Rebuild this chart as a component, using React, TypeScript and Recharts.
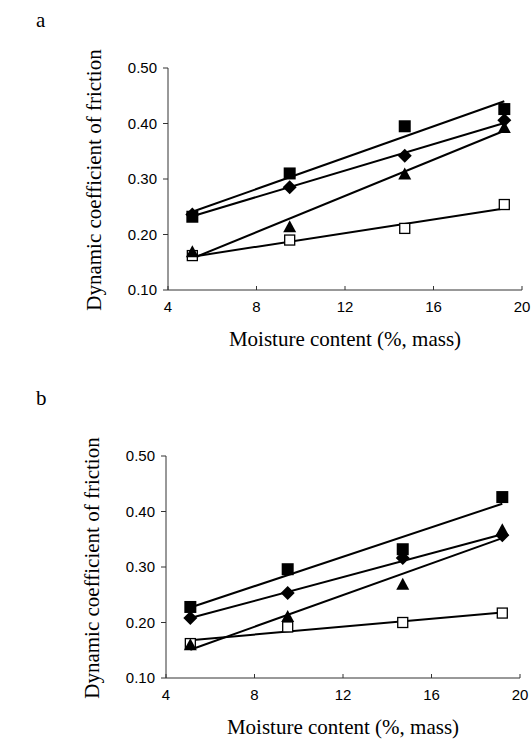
import { ComposedChart, Line, Scatter, XAxis, YAxis } from "recharts";

// moisture content (%, mass) at which the samples were measured
const moisture = [5.1, 9.5, 14.7, 19.2];
// ends of the fitted lines
const fitX = [5.1, 19.2];

const xTicks = [4, 8, 12, 16, 20];
const yTicks = [0.1, 0.2, 0.3, 0.4, 0.5];

// panel a
const aFilledSquare = [0.232, 0.31, 0.395, 0.426];
const aDiamond = [0.236, 0.285, 0.342, 0.406];
const aTriangle = [0.168, 0.213, 0.308, 0.392];
const aOpenSquare = [0.162, 0.19, 0.211, 0.254];
const aFitFilledSquare = [0.241, 0.44];
const aFitDiamond = [0.233, 0.401];
const aFitTriangle = [0.157, 0.387];
const aFitOpenSquare = [0.16, 0.247];

// panel b
const bFilledSquare = [0.228, 0.296, 0.332, 0.426];
const bDiamond = [0.208, 0.253, 0.316, 0.357];
const bTriangle = [0.159, 0.21, 0.268, 0.366];
const bOpenSquare = [0.162, 0.192, 0.2, 0.217];
const bFitFilledSquare = [0.227, 0.414];
const bFitDiamond = [0.208, 0.359];
const bFitTriangle = [0.151, 0.352];
const bFitOpenSquare = [0.168, 0.218];

const toPoints = (xs: number[], ys: number[]) => xs.map((x, i) => ({ x, y: ys[i] }));

const FilledSquare = ({ cx, cy }: any) => (
    <rect x={cx - 6} y={cy - 6} width={12} height={12} fill="#000" />
);
const OpenSquare = ({ cx, cy }: any) => (
    <rect x={cx - 5} y={cy - 5} width={10} height={10} fill="#fff" stroke="#000" strokeWidth={1.3} />
);
const Diamond = ({ cx, cy }: any) => (
    <polygon points={`${cx},${cy - 7} ${cx + 7},${cy} ${cx},${cy + 7} ${cx - 7},${cy}`} fill="#000" />
);
const Triangle = ({ cx, cy }: any) => (
    <polygon points={`${cx},${cy - 7} ${cx + 6.5},${cy + 5} ${cx - 6.5},${cy + 5}`} fill="#000" />
);

const XTick = ({ x, y, payload }: any) => (
    <g>
        <line x1={x} y1={y} x2={x} y2={y - 4} stroke="#333" />
        <text x={x} y={y + 22} textAnchor="middle" fontSize={15} fontFamily="Liberation Sans, Arial" fill="#000">
            {payload.value}
        </text>
    </g>
);

const serif = "'Liberation Serif', 'Times New Roman', serif";

interface PanelProps {
    top: number;
    shift: number;
    filledSquare: number[];
    diamond: number[];
    triangle: number[];
    openSquare: number[];
    fits: number[][];
}

function Panel({ top, shift, filledSquare, diamond, triangle, openSquare, fits }: PanelProps) {
    const plotLeft = 168 - shift;
    const plotWidth = 354;
    return (
        <div style={{ position: "absolute", left: 0, top, width: 532, height: 360 }}>
            <ComposedChart
                width={532}
                height={360}
                margin={{ top: 68, right: 10 + shift, bottom: 0, left: 108 - shift }}
            >
                <XAxis
                    type="number"
                    dataKey="x"
                    domain={[4, 20]}
                    ticks={xTicks}
                    height={70}
                    stroke="#333"
                    tickSize={0}
                    tickMargin={0}
                    tick={<XTick />}
                    allowDataOverflow
                />
                <YAxis
                    type="number"
                    dataKey="y"
                    domain={[0.1, 0.5]}
                    ticks={yTicks}
                    width={60}
                    stroke="#333"
                    tickSize={5}
                    tickMargin={6}
                    tick={{ fill: "#000", fontSize: 15, fontFamily: "Liberation Sans, Arial" }}
                    tickFormatter={(v) => Number(v).toFixed(2)}
                    allowDataOverflow
                />
                {fits.map((f, i) => (
                    <Line
                        key={i}
                        data={toPoints(fitX, f)}
                        dataKey="y"
                        stroke="#000"
                        strokeWidth={2}
                        dot={false}
                        activeDot={false}
                        isAnimationActive={false}
                    />
                ))}
                <Scatter data={toPoints(moisture, openSquare)} dataKey="y" shape={<OpenSquare />} isAnimationActive={false} />
                <Scatter data={toPoints(moisture, triangle)} dataKey="y" shape={<Triangle />} isAnimationActive={false} />
                <Scatter data={toPoints(moisture, diamond)} dataKey="y" shape={<Diamond />} isAnimationActive={false} />
                <Scatter data={toPoints(moisture, filledSquare)} dataKey="y" shape={<FilledSquare />} isAnimationActive={false} />
            </ComposedChart>
            <div
                style={{
                    position: "absolute",
                    left: plotLeft,
                    width: plotWidth,
                    top: 328,
                    textAlign: "center",
                    fontFamily: serif,
                    fontSize: 21,
                    lineHeight: "22px",
                    whiteSpace: "nowrap",
                }}
            >
                Moisture content (%, mass)
            </div>
            <div
                style={{
                    position: "absolute",
                    left: 94 - shift - 160,
                    top: 180 - 12,
                    width: 320,
                    height: 24,
                    lineHeight: "24px",
                    textAlign: "center",
                    transform: "rotate(-90deg)",
                    fontFamily: serif,
                    fontSize: 21,
                    whiteSpace: "nowrap",
                }}
            >
                Dynamic coefficient of friction
            </div>
        </div>
    );
}

export default function App() {
    return (
        <div style={{ position: "absolute", left: 0, top: 0, width: 532, height: 751, background: "#fff" }}>
            <div style={{ position: "absolute", left: 36, top: 8, fontFamily: serif, fontSize: 21, lineHeight: "24px" }}>a</div>
            <div style={{ position: "absolute", left: 36, top: 386, fontFamily: serif, fontSize: 21, lineHeight: "24px" }}>b</div>
            <Panel
                top={0}
                shift={0}
                filledSquare={aFilledSquare}
                diamond={aDiamond}
                triangle={aTriangle}
                openSquare={aOpenSquare}
                fits={[aFitFilledSquare, aFitDiamond, aFitTriangle, aFitOpenSquare]}
            />
            <Panel
                top={388}
                shift={2}
                filledSquare={bFilledSquare}
                diamond={bDiamond}
                triangle={bTriangle}
                openSquare={bOpenSquare}
                fits={[bFitFilledSquare, bFitDiamond, bFitTriangle, bFitOpenSquare]}
            />
        </div>
    );
}
